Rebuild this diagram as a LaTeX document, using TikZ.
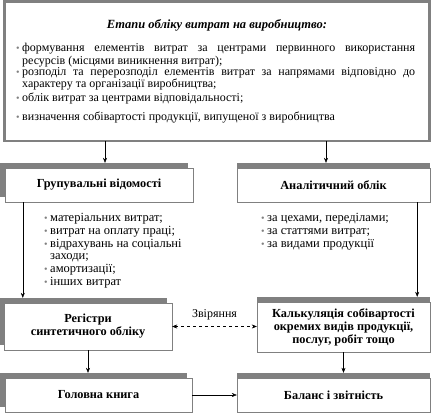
\documentclass[tikz,border=0pt]{standalone}
\usepackage{fontspec}
\setmainfont{Liberation Serif}
\usepackage{xcolor}
\usetikzlibrary{arrows.meta,shadows}
\definecolor{framegray}{HTML}{808080}
\newcommand{\bul}{\leavevmode\llap{\textcolor{framegray}{\fontsize{10}{10}\selectfont\textbullet}\hspace{2.5pt}}}

\begin{document}
\begin{tikzpicture}[x=1pt,y=-1pt,>={Stealth[length=5pt,width=4pt]},
  frame/.style={draw=framegray,line width=2.5pt,minimum width=425pt,minimum height=139.5pt,inner sep=0pt,outer sep=0pt},
  box/.style={draw=framegray,fill=white,align=center,inner sep=2pt,font=\bfseries\fontsize{12.3}{13}\selectfont,
    general shadow={fill=framegray,shadow xshift=#1,shadow yshift=5pt}},
  box/.default=-5pt,
  item/.style={anchor=north west,text width=393pt,align=justify,inner sep=0pt,font=\fontsize{12}{12.5}\selectfont},
  list/.style={anchor=north west,align=left,inner sep=0pt,font=\fontsize{12.5}{12.8}\selectfont}]
\useasboundingbox (0,0) rectangle (431,413);
\node[frame] (stages) at (217,71.25) {};
\node[font=\bfseries\itshape\fontsize{12.5}{14}\selectfont] (title) at (217,25) {Етапи обліку витрат на виробництво:};
\node[item] (st1) at (22,43) {\bul формування елементів витрат за центрами первинного використання\linebreak ресурсів (місцями виникнення витрат);};
\node[item] (st2) at (22,67) {\bul розподіл та перерозподіл елементів витрат за напрямами відповідно до\linebreak характеру та організації виробництва;};
\node[item] (st3) at (22,93) {\bul облік витрат за центрами відповідальності;};
\node[item] (st4) at (22,112) {\bul визначення собівартості продукції, випущеної з виробництва};

\node[box,minimum width=188pt,minimum height=34pt] (grp) at (99,185) {Групувальні відомості};
\node[box=0pt,minimum width=193pt,minimum height=34pt] (ana) at (333.5,185) {Аналітичний облік};
\node[list] (grpl) at (50,213) {\bul матеріальних витрат;\\ \bul витрат на оплату праці;\\ \bul відрахувань на соціальні\\ заходи;\\ \bul амортизації;\\ \bul інших витрат};
\node[list] (anal) at (267,213) {\bul за цехами, переділами;\\ \bul за статтями витрат;\\ \bul за видами продукції};

\node[box,minimum width=168pt,minimum height=47pt] (reg) at (88,326.5) {Регістри\\ синтетичного обліку};
\node[box=0pt,minimum width=173pt,minimum height=50pt] (kalk) at (343.5,327) {Калькуляція собівартості\\ окремих видів продукції,\\ послуг, робіт тощо};
\node[box,minimum width=187pt,minimum height=34pt] (gol) at (98.5,395) {Головна книга};
\node[box=0pt,minimum width=193pt,minimum height=34pt] (bal) at (333.5,395) {Баланс і звітність};

\draw[->] ([xshift=100.5pt]stages.south west) -- ([xshift=6pt,yshift=5pt]grp.north);
\draw[->] ([xshift=321.5pt]stages.south west) -- ([xshift=-7.5pt,yshift=5pt]ana.north);
\draw[->] ([xshift=18pt]grp.south west) -- ([xshift=19pt,yshift=5pt]reg.north west);
\draw[->] ([xshift=-13pt]ana.south east) -- ([xshift=-13pt,yshift=5pt]kalk.north east);
\draw[<->,dashed] (reg.east) -- node[above=3pt,font=\fontsize{12}{13}\selectfont] (check) {Звіряння} (reg.east -| kalk.west);
\draw[->] (reg.south) -- ([xshift=-10.5pt,yshift=5pt]gol.north);
\draw[->] (kalk.south) -- ([xshift=10pt,yshift=5pt]bal.north);
\draw[->] (gol) -- (bal);
\end{tikzpicture}
\end{document}
